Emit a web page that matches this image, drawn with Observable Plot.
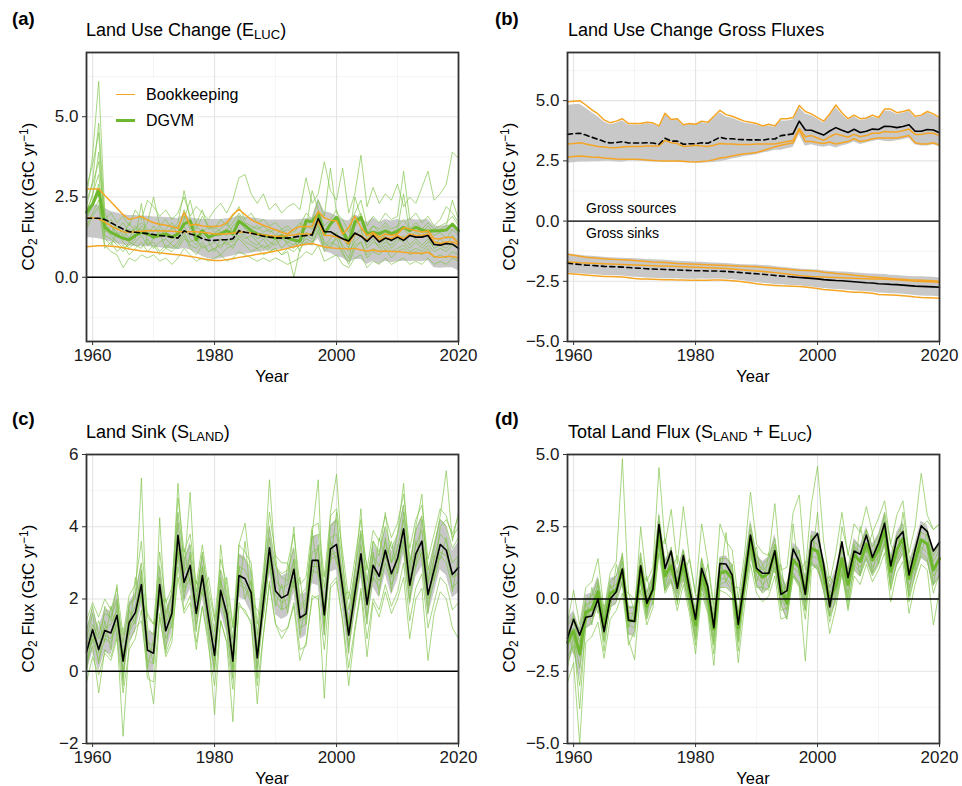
<!DOCTYPE html>
<html><head><meta charset="utf-8">
<script src="https://cdn.jsdelivr.net/npm/d3@7"></script>
<script src="https://cdn.jsdelivr.net/npm/@observablehq/plot@0.6"></script>
<style>
body{margin:0;background:#fff;}
#fig{position:relative;width:962px;height:786px;font-family:"Liberation Sans",Arial,Helvetica,sans-serif;color:#000;overflow:hidden;}
.panel{position:absolute;width:481px;height:393px;}
.panel svg{position:absolute;left:0;top:0;}
.t{position:absolute;white-space:nowrap;line-height:1;}
.lab{font-weight:bold;font-size:18.5px;}
.title{font-size:18px;}
.sub{font-size:13px;position:relative;top:3px;}
.ytitle{font-size:17px;width:300px;text-align:center;transform:rotate(-90deg);left:-122px;}
.ysub{font-size:12px;position:relative;top:3px;}
.ysup{font-size:12px;position:relative;top:-6px;}
.xtitle{font-size:16.5px;width:100px;text-align:center;left:222px;}
.leg{font-size:16px;}
.gl{font-size:14px;}
.key{position:absolute;width:19px;height:0;}
</style></head><body><div id="fig"></div>
<script>
const years = d3.range(1959, 2021);
const xMajor = [1960, 1980, 2000, 2020];
const xMinor = [1970, 1990, 2010];

// ---------- (a) Land use change emissions ----------
const eLucBkMean = [
1.84,1.84,1.84,1.80,1.70,1.60,1.50,1.42,1.40,1.38,
1.36,1.33,1.30,1.28,1.25,1.22,1.45,1.35,1.30,1.20,
1.15,1.15,1.17,1.17,1.20,1.45,1.40,1.37,1.33,1.28,
1.25,1.23,1.22,1.22,1.25,1.28,1.30,1.32,1.83,1.42,
1.42,1.30,1.20,1.13,1.38,1.28,1.12,1.30,1.10,1.22,
1.15,1.25,1.15,1.30,1.25,1.25,1.30,1.02,1.00,1.05,
1.03,0.90];
const eLucBk1 = [
2.75,2.75,2.75,2.55,2.35,2.15,1.95,1.80,1.85,1.90,
1.78,1.70,1.65,1.62,1.58,1.52,2.02,1.62,1.65,1.60,
1.58,1.58,1.60,1.70,1.95,2.12,1.95,1.80,1.70,1.62,
1.55,1.48,1.40,1.35,1.50,1.58,1.58,1.58,2.05,1.85,
1.78,1.75,1.35,1.55,1.90,1.55,1.30,1.40,1.25,1.35,
1.30,1.35,1.55,1.50,1.45,1.40,1.45,1.20,1.20,1.25,
1.25,1.05];
const eLucBk2 = [
1.85,1.85,1.82,1.72,1.60,1.50,1.42,1.40,1.42,1.43,
1.45,1.45,1.45,1.44,1.43,1.42,1.42,1.42,1.42,1.40,
1.38,1.35,1.35,1.35,1.38,1.42,1.40,1.38,1.35,1.32,
1.30,1.28,1.28,1.30,1.32,1.35,1.35,1.35,1.75,1.30,
1.30,1.25,1.20,1.05,1.35,1.30,1.15,1.35,1.15,1.25,
1.20,1.30,1.20,1.35,1.30,1.30,1.35,1.10,1.05,1.10,
1.10,1.00];
const eLucBk3 = [
0.95,0.97,0.98,0.98,0.97,0.95,0.92,0.88,0.85,0.82,
0.80,0.78,0.76,0.74,0.72,0.70,0.68,0.65,0.62,0.58,
0.55,0.52,0.52,0.55,0.58,0.62,0.65,0.68,0.72,0.75,
0.78,0.82,0.86,0.90,0.95,1.00,1.03,1.05,1.00,0.95,
0.92,0.90,0.90,0.88,0.90,0.85,0.82,0.85,0.80,0.82,
0.80,0.80,0.78,0.76,0.75,0.75,0.78,0.65,0.62,0.65,
0.65,0.60];
const eLucDgvmMean = [
2.02,2.28,2.73,1.56,1.40,1.30,1.22,1.16,1.30,1.40,
1.35,1.25,1.30,1.35,1.25,1.35,1.66,1.76,1.16,1.45,
1.25,1.33,1.35,1.45,1.35,1.74,1.61,1.45,1.35,1.30,
1.27,1.22,1.30,1.22,1.16,1.12,1.76,1.74,1.97,1.35,
1.66,1.87,1.45,1.06,1.71,1.87,1.35,1.40,1.35,1.45,
1.35,1.43,1.56,1.45,1.56,1.47,1.43,1.45,1.45,1.47,
1.66,1.45];
const eLucBandLo = [
1.25,1.22,1.20,1.15,1.10,1.05,1.00,0.98,0.96,0.95,
0.95,0.94,0.92,0.90,0.88,0.86,0.90,0.85,0.75,0.65,
0.58,0.55,0.58,0.62,0.66,0.72,0.72,0.75,0.78,0.80,
0.83,0.85,0.87,0.89,0.92,0.95,0.98,1.00,1.20,0.80,
0.75,0.65,0.60,0.45,0.55,0.55,0.40,0.50,0.40,0.50,
0.45,0.48,0.50,0.48,0.50,0.48,0.52,0.30,0.28,0.30,
0.30,0.20];
const eLucBandHi = [
2.15,2.25,2.25,2.15,2.05,2.00,1.95,1.92,1.92,1.90,
1.90,1.88,1.88,1.86,1.85,1.82,1.95,1.85,1.82,1.80,
1.80,1.80,1.80,1.82,1.84,1.92,1.88,1.85,1.83,1.80,
1.78,1.78,1.78,1.78,1.78,1.80,1.82,1.85,2.45,2.05,
2.00,1.90,1.80,1.75,1.95,1.85,1.70,1.85,1.70,1.80,
1.75,1.80,1.75,1.82,1.78,1.78,1.80,1.60,1.58,1.62,
1.62,1.50];
const eLucDgvm = [
[2.5,3.8,6.1,2.0,1.6,1.4,1.2,1.5,1.3,1.6,
1.4,1.2,1.5,1.3,1.2,1.4,2.1,1.6,1.3,1.5,
1.2,1.3,1.4,1.3,1.6,1.8,1.5,1.4,1.2,1.3,
1.1,1.0,1.2,1.1,1.0,1.2,1.6,1.5,1.9,1.3,
1.6,1.8,1.3,0.9,1.6,1.8,1.2,1.4,1.2,1.3,
1.1,1.4,1.5,1.3,1.4,1.3,1.5,1.3,1.4,1.2,
1.5,1.3],
[2.2,3.0,4.8,1.8,2.0,1.7,1.9,1.6,2.1,1.8,
2.4,2.2,1.9,2.1,1.8,2.0,2.5,1.9,2.2,2.0,
1.8,2.1,2.3,2.0,2.4,3.1,3.2,2.6,2.3,2.6,
2.1,2.3,2.0,2.2,2.3,2.1,3.1,2.3,2.6,3.6,
2.7,2.4,3.4,2.0,2.6,3.8,2.2,2.8,2.3,2.6,
2.4,2.9,2.2,2.5,2.3,2.8,3.3,2.4,2.6,2.9,
3.9,3.7],
[2.8,3.5,4.5,1.5,1.3,1.1,0.9,1.0,1.2,2.3,
1.0,1.1,0.8,1.0,0.9,1.1,1.4,1.0,0.9,1.1,
0.8,0.9,1.0,1.1,0.9,1.3,1.1,1.0,0.9,1.0,
0.8,0.9,0.7,0.8,0.0,0.9,1.1,1.0,1.5,0.8,
1.0,1.2,0.7,0.5,1.0,1.1,0.6,0.8,0.7,0.9,
0.6,0.8,0.9,0.7,0.8,0.7,0.9,0.6,0.7,0.6,
0.8,0.7],
[1.6,2.0,2.4,1.0,0.8,0.7,0.3,0.6,0.5,0.7,
0.6,0.7,0.5,0.6,0.4,0.6,0.9,0.7,0.5,0.6,
0.5,0.6,0.7,0.5,0.6,0.8,0.7,0.6,0.5,0.6,
0.5,0.6,0.5,0.4,0.5,0.6,0.8,0.7,1.0,0.5,
0.6,0.7,0.4,0.3,0.6,0.7,0.3,0.5,0.4,0.6,
0.4,0.5,0.6,0.4,0.5,0.4,0.6,0.4,0.5,0.4,
0.6,0.5],
[2.0,2.6,3.2,1.4,1.6,1.3,1.5,1.2,1.6,1.4,
1.7,2.5,1.6,1.8,1.5,1.7,2.7,1.8,1.5,1.9,
1.6,1.5,1.8,1.6,1.9,2.2,1.8,2.0,1.7,1.8,
1.6,1.7,1.5,1.6,1.4,1.6,2.0,1.8,2.4,1.9,
3.4,2.0,1.8,1.4,2.0,2.4,1.6,1.9,1.7,2.0,
1.8,1.9,3.3,1.8,2.0,1.7,1.9,1.6,1.8,2.2,
2.0,1.7],
[1.8,2.3,2.9,1.2,1.0,1.4,1.1,0.9,1.1,1.3,
1.0,1.2,1.4,0.9,1.1,1.3,1.6,1.2,1.0,1.3,
1.1,0.8,1.2,1.0,1.2,1.5,1.3,1.1,1.0,1.2,
0.9,1.1,1.3,1.0,0.9,1.1,1.3,1.2,1.7,1.0,
1.2,1.4,0.9,0.6,1.3,1.5,0.9,1.1,1.0,1.2,
0.9,1.1,1.3,1.0,1.2,1.0,1.2,0.9,1.0,0.9,
1.1,1.0],
[2.4,2.9,3.6,1.7,1.4,1.6,1.3,1.7,1.4,1.5,
1.3,1.6,1.3,1.5,1.7,1.3,1.8,2.4,1.6,1.4,
1.6,1.4,1.5,1.7,1.4,1.9,1.6,1.5,1.6,1.4,
1.5,1.3,1.5,1.3,1.5,1.7,1.5,2.7,2.1,1.6,
1.8,2.1,1.5,1.2,1.8,2.0,1.4,1.6,1.5,1.7,
1.5,1.6,1.8,1.5,1.7,1.5,1.7,1.5,1.6,1.7,
1.9,1.6],
[1.5,1.9,2.2,0.9,1.1,0.8,1.0,0.7,0.9,1.1,
0.8,1.0,0.7,0.9,0.8,1.0,1.3,0.9,0.7,1.0,
0.8,0.9,0.7,0.9,1.0,1.2,1.0,0.8,0.9,0.7,
0.8,0.9,0.7,0.9,0.8,1.0,1.2,1.1,1.4,0.9,
1.1,1.0,0.8,0.4,0.9,1.1,0.7,0.9,0.8,1.0,
0.8,0.9,1.0,0.8,0.9,0.8,1.0,0.8,0.9,0.8,
1.0,0.9],
[2.1,2.5,3.9,1.6,1.8,1.5,1.7,1.4,1.5,1.7,
1.5,1.4,1.6,1.4,1.5,1.6,1.9,1.5,1.7,2.1,
1.5,1.6,1.4,1.5,1.7,2.0,1.7,1.6,1.5,1.6,
1.4,1.5,1.4,1.5,1.3,1.4,1.8,1.6,2.0,1.4,
1.7,1.9,1.4,1.1,2.5,1.9,1.3,1.6,1.4,1.6,
1.4,1.5,2.6,1.4,1.6,1.4,1.6,1.4,1.5,1.6,
2.4,1.8],
[1.9,2.2,2.6,1.3,1.2,1.0,0.8,1.1,1.0,0.9,
1.2,0.9,1.1,1.2,1.0,0.9,1.2,1.1,1.2,0.9,
1.0,1.1,0.9,1.2,1.1,1.4,1.2,1.3,1.1,0.9,
1.0,1.2,0.9,1.1,1.2,0.8,1.4,1.3,1.6,1.1,
0.9,1.3,1.0,0.8,1.1,1.3,1.0,1.2,0.9,1.1,
1.0,1.2,1.1,0.9,1.1,0.9,1.1,1.0,1.2,1.0,
1.3,1.1]];

// ---------- (b) gross fluxes (bookkeeping) ----------
const srcMean = [
3.60,3.63,3.65,3.57,3.48,3.40,3.30,3.24,3.26,3.30,
3.24,3.24,3.24,3.25,3.24,3.19,3.44,3.32,3.32,3.19,
3.21,3.21,3.25,3.23,3.35,3.48,3.42,3.42,3.39,3.38,
3.37,3.37,3.36,3.41,3.41,3.55,3.58,3.63,4.15,3.78,
3.77,3.67,3.57,3.74,3.88,3.77,3.68,3.81,3.68,3.73,
3.82,3.80,3.94,3.93,3.88,3.93,4.00,3.73,3.73,3.80,
3.78,3.67];
const src1 = [
4.95,4.98,5.00,4.82,4.62,4.45,4.20,4.08,4.15,4.25,
4.05,4.05,4.05,4.10,4.08,3.95,4.48,4.22,4.25,4.00,
4.05,4.02,4.15,4.10,4.35,4.60,4.42,4.35,4.25,4.15,
4.10,4.05,3.95,4.02,3.95,4.25,4.25,4.30,4.80,4.55,
4.45,4.30,4.15,4.45,4.82,4.50,4.25,4.40,4.25,4.28,
4.40,4.30,4.65,4.65,4.50,4.55,4.62,4.35,4.40,4.55,
4.45,4.30];
const src2 = [
3.20,3.22,3.25,3.20,3.15,3.10,3.08,3.05,3.05,3.08,
3.10,3.10,3.10,3.12,3.12,3.12,3.35,3.25,3.22,3.10,
3.12,3.15,3.12,3.10,3.15,3.22,3.20,3.20,3.18,3.18,
3.18,3.20,3.20,3.20,3.20,3.25,3.30,3.35,3.85,3.50,
3.55,3.45,3.35,3.50,3.62,3.55,3.48,3.60,3.50,3.55,
3.65,3.65,3.72,3.70,3.70,3.75,3.82,3.60,3.60,3.65,
3.65,3.55];
const src3 = [
2.65,2.68,2.70,2.68,2.66,2.65,2.62,2.60,2.58,2.57,
2.57,2.57,2.56,2.54,2.52,2.50,2.50,2.50,2.49,2.48,
2.46,2.45,2.47,2.50,2.55,2.62,2.65,2.70,2.75,2.80,
2.82,2.85,2.92,3.00,3.08,3.15,3.20,3.25,3.80,3.30,
3.30,3.25,3.22,3.28,3.20,3.25,3.30,3.42,3.30,3.35,
3.42,3.45,3.45,3.45,3.45,3.50,3.55,3.25,3.20,3.20,
3.25,3.15];
const snkMean = [
-1.75,-1.78,-1.80,-1.83,-1.84,-1.86,-1.88,-1.89,-1.90,-1.91,
-1.93,-1.95,-1.96,-1.98,-1.99,-2.00,-2.01,-2.02,-2.03,-2.04,
-2.05,-2.06,-2.06,-2.07,-2.07,-2.08,-2.09,-2.11,-2.13,-2.15,
-2.17,-2.19,-2.21,-2.23,-2.26,-2.28,-2.30,-2.32,-2.34,-2.36,
-2.38,-2.40,-2.43,-2.45,-2.47,-2.48,-2.50,-2.52,-2.54,-2.56,
-2.57,-2.60,-2.61,-2.63,-2.64,-2.66,-2.68,-2.70,-2.71,-2.72,
-2.73,-2.75];
const snk1 = [
-1.38,-1.42,-1.46,-1.50,-1.52,-1.54,-1.56,-1.58,-1.60,-1.61,
-1.62,-1.64,-1.66,-1.68,-1.70,-1.71,-1.72,-1.74,-1.76,-1.77,
-1.78,-1.79,-1.80,-1.81,-1.82,-1.83,-1.84,-1.85,-1.87,-1.88,
-1.89,-1.90,-1.92,-1.94,-1.96,-1.98,-2.00,-2.02,-2.04,-2.05,
-2.06,-2.08,-2.12,-2.15,-2.18,-2.20,-2.22,-2.25,-2.27,-2.30,
-2.32,-2.34,-2.36,-2.38,-2.40,-2.42,-2.44,-2.45,-2.46,-2.47,
-2.48,-2.50];
const snk2 = [
-1.70,-1.71,-1.73,-1.74,-1.75,-1.76,-1.77,-1.78,-1.79,-1.80,
-1.81,-1.82,-1.83,-1.84,-1.85,-1.86,-1.87,-1.88,-1.89,-1.90,
-1.91,-1.92,-1.93,-1.94,-1.95,-1.96,-1.97,-1.99,-2.01,-2.03,
-2.05,-2.07,-2.09,-2.11,-2.14,-2.17,-2.20,-2.23,-2.26,-2.28,
-2.30,-2.31,-2.32,-2.33,-2.34,-2.35,-2.36,-2.37,-2.38,-2.39,
-2.40,-2.41,-2.42,-2.43,-2.44,-2.46,-2.48,-2.50,-2.51,-2.52,
-2.53,-2.55];
const snk3 = [
-2.18,-2.20,-2.22,-2.24,-2.26,-2.28,-2.30,-2.30,-2.31,-2.32,
-2.35,-2.38,-2.40,-2.41,-2.42,-2.43,-2.44,-2.44,-2.45,-2.45,
-2.46,-2.46,-2.46,-2.46,-2.45,-2.45,-2.46,-2.48,-2.50,-2.53,
-2.56,-2.60,-2.63,-2.65,-2.67,-2.69,-2.70,-2.71,-2.72,-2.74,
-2.77,-2.80,-2.84,-2.86,-2.88,-2.90,-2.93,-2.95,-2.96,-2.98,
-3.00,-3.05,-3.06,-3.07,-3.08,-3.10,-3.12,-3.15,-3.17,-3.18,
-3.19,-3.20];

// ---------- (c) land sink ----------
const sLandMean = [
0.53,1.15,0.60,1.13,1.06,1.55,0.28,1.35,1.62,2.40,
0.58,0.50,2.40,1.12,1.60,3.76,2.46,2.93,1.60,2.65,
1.50,0.44,2.24,1.60,0.28,2.65,2.56,2.17,0.37,1.90,
3.42,2.22,2.03,2.12,2.82,1.48,1.59,3.07,3.07,1.56,
3.39,3.51,2.30,1.00,2.15,3.25,1.85,2.93,2.63,3.35,
2.70,3.12,3.94,2.38,3.25,3.60,2.12,2.81,3.51,3.35,
2.68,2.87];
const sLandSd = [
0.60,0.60,0.60,0.60,0.60,0.60,0.60,0.55,0.55,0.60,
0.55,0.55,0.60,0.55,0.55,0.70,0.60,0.65,0.55,0.60,
0.55,0.60,0.60,0.55,0.60,0.60,0.60,0.55,0.60,0.60,
0.70,0.65,0.60,0.60,0.65,0.60,0.60,0.65,0.70,0.65,
0.65,0.70,0.60,0.60,0.60,0.65,0.60,0.60,0.60,0.65,
0.60,0.60,0.70,0.60,0.65,0.70,0.60,0.65,0.70,0.70,
0.65,0.70];
const sLandDgvm = [
[0.9,1.6,0.5,1.8,1.4,2.4,-0.2,1.9,2.0,5.35,
0.9,0.2,4.25,1.4,2.2,5.2,2.8,4.95,1.9,3.3,
2.0,0.3,3.5,2.0,0.1,3.5,4.1,2.6,0.5,2.4,
5.3,2.9,2.6,2.5,4.0,1.8,2.0,3.8,5.3,1.2,
4.4,5.45,3.0,1.2,2.7,4.5,2.0,3.6,3.2,4.4,
3.0,3.8,5.2,2.8,4.0,4.9,2.5,3.4,4.3,5.55,
3.6,4.4],
[0.2,0.7,-0.6,0.6,0.4,1.0,-1.8,0.8,1.2,1.4,
0.1,-0.9,1.5,0.5,1.0,2.6,1.6,1.9,0.6,1.8,
0.9,-1.2,1.4,0.8,-1.4,1.9,1.6,1.4,-0.9,1.0,
2.4,1.3,0.9,1.2,1.8,0.3,0.8,2.0,2.1,-0.75,
2.3,2.5,1.4,-0.4,1.1,2.2,0.4,1.9,1.5,2.2,
1.6,2.0,2.6,0.9,2.0,2.3,0.3,1.6,2.2,2.0,
1.2,0.9],
[0.7,1.3,0.9,1.2,1.3,1.7,0.5,1.4,1.8,2.6,
0.8,0.7,2.6,1.3,1.8,4.1,2.7,3.2,1.9,2.9,
1.8,0.8,2.5,1.9,0.6,2.9,2.8,2.4,0.6,2.1,
3.7,2.5,2.3,2.4,3.1,1.7,1.9,3.3,3.4,1.8,
3.7,3.8,2.6,1.3,2.4,3.5,2.1,3.2,2.9,3.6,
3.0,3.4,4.2,2.6,3.5,3.9,2.4,3.1,3.8,3.6,
3.0,3.2],
[0.3,0.9,0.3,0.9,0.8,1.3,0.0,1.1,1.4,2.1,
0.3,0.2,2.1,0.9,1.3,3.4,2.2,2.6,1.3,2.3,
1.2,0.1,1.9,1.3,0.0,2.4,2.3,1.9,0.1,1.6,
3.1,1.9,1.7,1.8,2.5,1.2,1.3,2.8,2.7,1.3,
3.1,3.2,2.0,0.7,1.8,2.9,1.5,2.6,2.3,3.0,
2.4,2.8,3.6,2.0,2.9,3.3,1.8,2.5,3.2,3.0,
2.3,2.5],
[1.1,1.8,1.0,1.6,1.5,2.0,0.8,1.8,2.1,3.0,
1.2,1.0,2.9,1.6,2.1,4.4,3.1,3.5,2.2,3.2,
2.1,1.1,2.8,2.2,0.9,3.2,3.1,2.8,1.0,2.5,
4.0,2.9,2.7,2.8,3.4,2.1,2.3,3.7,3.8,2.3,
4.0,4.2,3.0,1.7,2.8,3.9,2.5,3.6,3.3,4.0,
3.4,3.8,4.6,3.0,3.9,4.3,2.8,3.5,4.2,4.0,
3.4,3.7],
[-0.3,0.4,-0.1,0.5,0.3,0.9,-0.6,0.6,0.9,1.7,
-0.2,-0.3,1.6,0.4,0.8,2.9,1.7,2.1,0.8,1.8,
0.7,-0.4,1.4,0.8,-0.5,1.8,1.7,1.3,-0.4,1.0,
2.5,1.3,1.1,1.2,1.9,0.6,0.7,2.1,2.0,0.6,
2.4,2.6,1.4,0.1,1.2,2.3,0.9,2.0,1.7,2.4,
1.8,2.2,3.0,1.4,2.3,2.7,1.2,1.9,2.6,2.4,
1.7,1.9],
[0.6,0.8,1.4,0.8,1.8,1.0,1.2,1.0,2.6,1.9,
1.6,1.3,1.9,2.0,1.2,3.2,3.4,2.4,2.5,2.1,
2.6,1.5,1.8,2.6,1.3,2.2,3.6,1.9,1.7,1.5,
3.0,3.2,1.7,3.0,2.3,2.6,1.3,3.9,2.6,2.7,
3.0,4.4,2.1,2.2,1.8,3.8,2.9,2.5,3.7,3.1,
3.6,2.7,4.4,3.2,2.9,4.2,2.9,2.5,4.0,4.2,
3.8,4.3],
[0.5,1.0,0.7,1.0,0.9,1.4,0.4,1.2,1.5,2.2,
0.6,0.6,2.2,1.1,1.5,3.6,2.3,2.8,1.5,2.5,
1.4,0.5,2.1,1.5,0.4,2.5,2.4,2.0,0.4,1.8,
3.2,2.1,1.9,2.0,2.6,1.4,1.5,2.9,2.9,1.5,
3.2,3.3,2.2,1.0,2.0,3.0,1.8,2.8,2.5,3.2,
2.6,3.0,3.7,2.3,3.1,3.4,2.0,2.7,3.3,3.2,
2.6,2.7],
[1.4,1.9,1.5,2.0,1.7,2.3,1.0,2.1,2.4,3.6,
1.5,1.3,3.3,1.9,2.3,4.8,3.3,3.8,2.4,3.5,
2.3,1.4,3.1,2.4,1.2,3.5,3.3,3.0,1.3,2.8,
4.4,3.2,3.0,3.0,3.8,2.4,2.6,4.0,4.1,2.6,
4.3,4.5,3.3,2.0,3.1,4.2,2.8,3.9,3.6,4.3,
3.7,4.1,4.9,3.4,4.2,4.6,3.1,3.8,4.5,4.3,
3.7,4.0],
[0.0,1.2,0.2,1.4,0.6,1.9,-0.4,1.7,1.3,2.8,
0.1,0.9,2.0,0.6,1.9,3.3,2.0,3.3,1.1,2.9,
1.1,0.0,2.6,1.1,-0.2,2.9,2.0,2.5,-0.2,2.2,
3.0,1.8,2.4,1.6,3.1,1.0,1.9,2.6,3.5,1.0,
3.6,3.0,2.6,0.5,2.5,2.8,1.3,3.3,2.1,3.7,
2.2,3.5,3.4,1.9,3.6,3.1,1.6,3.2,3.1,3.7,
2.2,3.2]];

// ---------- (d) total land flux ----------
const netBk = [
-1.36,-0.70,-1.25,-0.63,-0.59,0.00,-1.13,0.00,0.25,1.04,
-0.73,-0.78,1.15,-0.15,0.33,2.58,1.06,1.66,0.37,1.50,
0.35,-0.70,1.06,0.43,-0.99,1.23,1.21,0.83,-0.88,0.60,
2.21,1.06,0.89,0.89,1.67,0.16,0.29,1.73,1.29,0.16,
2.00,2.27,1.20,-0.27,0.89,1.98,0.74,1.66,1.55,2.21,
1.44,1.93,2.62,1.14,2.08,2.33,0.83,1.70,2.53,2.33,
1.66,1.96];
const netDgvmMean = [
-1.50,-1.10,-1.90,-0.45,-0.35,0.25,-0.95,0.20,0.30,1.00,
-0.75,-0.75,1.10,-0.25,0.35,2.40,0.80,1.15,0.45,1.20,
0.25,-0.90,0.90,0.15,-1.05,0.90,0.95,0.70,-1.00,0.60,
2.15,1.00,0.75,0.90,1.65,0.35,-0.15,1.35,1.10,0.20,
1.75,1.65,0.85,-0.05,0.45,1.40,0.50,1.55,1.30,1.90,
1.35,1.70,2.40,0.95,1.70,2.10,0.70,1.35,2.05,1.90,
1.00,1.40];
const netSd = [
0.80,0.70,0.90,0.60,0.55,0.55,0.50,0.50,0.50,0.55,
0.50,0.50,0.55,0.50,0.50,0.60,0.55,0.60,0.50,0.55,
0.50,0.55,0.55,0.50,0.55,0.55,0.55,0.50,0.55,0.55,
0.60,0.55,0.55,0.55,0.60,0.55,0.60,0.60,0.65,0.60,
0.60,0.65,0.60,0.55,0.60,0.60,0.55,0.55,0.55,0.60,
0.55,0.55,0.60,0.55,0.60,0.60,0.55,0.60,0.65,0.65,
0.60,0.65];
const netDgvm = [
[-0.8,0.3,-0.9,0.4,0.6,1.4,-0.4,0.9,1.3,4.85,
0.2,-0.4,2.5,0.6,1.1,4.55,1.9,3.1,1.2,3.2,
1.4,0.2,2.6,1.3,-0.2,2.6,2.0,1.7,0.0,1.5,
3.7,1.9,1.6,1.5,3.3,1.0,1.1,3.0,3.6,1.0,
3.3,4.6,2.0,0.6,1.6,3.0,1.5,2.6,2.3,3.2,
2.3,2.8,3.4,1.9,2.9,3.4,1.6,2.5,4.35,2.9,
2.4,2.6],
[-2.9,-2.2,-5.0,-1.5,-1.3,-0.8,-2.05,-0.7,-0.4,0.2,
-1.4,-2.1,0.3,-0.9,-0.3,1.6,0.2,0.6,-0.4,0.5,
-0.5,-1.9,0.2,-0.5,-2.3,0.3,0.2,0.0,-2.2,-0.3,
1.2,0.2,-0.1,0.1,0.8,-0.7,-0.6,0.8,0.4,-2.15,
1.0,1.2,0.3,-1.2,-0.3,0.9,-0.4,0.8,0.5,1.2,
0.6,1.0,1.6,-0.1,0.9,1.3,-0.5,0.5,1.2,1.0,
-0.9,0.3],
[-1.6,-1.3,-2.4,-0.7,-0.5,0.1,-1.2,0.0,0.2,0.9,
-0.9,-1.0,0.9,-0.4,0.2,2.2,0.6,1.0,0.2,1.0,
0.0,-1.1,0.7,-0.1,-1.3,0.7,0.7,0.5,-1.2,0.4,
1.9,0.8,0.5,0.7,1.4,0.1,-0.4,1.1,0.9,-0.1,
1.5,1.4,0.6,-0.3,0.2,1.2,0.2,1.3,1.1,1.7,
1.1,1.5,2.2,0.7,1.5,1.9,0.4,1.1,1.8,1.6,
0.8,1.1],
[-1.2,-0.8,-1.5,-0.2,-0.1,0.5,-0.7,0.4,0.5,1.3,
-0.5,-0.5,1.4,0.0,0.6,2.7,1.1,1.4,0.7,1.5,
0.5,-0.6,1.2,0.4,-0.8,1.2,1.2,1.0,-0.7,0.9,
2.4,1.3,1.0,1.2,1.9,0.6,0.1,1.6,1.4,0.5,
2.0,1.9,1.1,0.2,0.7,1.7,0.8,1.8,1.6,2.2,
1.6,2.0,2.7,1.2,2.0,2.4,1.0,1.6,2.3,2.2,
1.3,1.7],
[-2.0,-1.6,-3.0,-1.0,-0.8,-0.2,-1.5,-0.3,-0.1,0.6,
-1.2,-1.3,0.6,-0.7,-0.1,1.9,0.3,0.7,-0.1,0.7,
-0.3,-1.4,0.4,-0.4,-1.6,0.4,0.4,0.2,-1.5,0.1,
1.6,0.5,0.2,0.4,1.1,-0.2,-0.7,0.8,0.6,-0.4,
1.2,1.1,0.3,-0.6,-0.1,0.9,-0.1,1.0,0.8,1.4,
0.8,1.2,1.9,0.4,1.2,1.6,0.1,0.8,1.5,1.3,
0.5,0.8],
[-1.0,-1.9,-1.2,-0.9,0.4,-0.5,-0.2,-0.4,1.2,0.4,
0.2,0.0,0.3,0.8,-0.2,1.6,2.1,0.9,1.5,0.8,
1.4,0.1,0.3,1.2,-0.4,0.6,2.3,0.4,0.4,0.2,
1.4,1.8,0.3,1.6,0.9,1.2,-0.2,2.6,0.8,1.3,
1.2,3.0,0.5,0.8,0.4,2.5,1.6,1.0,2.5,1.6,
2.3,1.2,3.0,1.9,1.4,3.0,1.5,1.0,2.5,2.7,
2.4,2.6],
[-1.4,-1.0,-1.8,-0.5,-0.4,0.3,-1.0,0.2,0.4,1.1,
-0.7,-0.8,1.2,-0.2,0.4,2.4,0.9,1.3,0.5,1.3,
0.3,-0.8,1.0,0.2,-1.0,1.0,1.0,0.7,-1.0,0.6,
2.1,1.0,0.8,0.9,1.6,0.3,-0.1,1.4,1.1,0.2,
1.7,1.7,0.8,-0.1,0.4,1.4,0.5,1.5,1.3,1.9,
1.3,1.7,2.4,0.9,1.7,2.1,0.7,1.4,2.0,1.9,
1.0,1.4],
[-1.8,-0.5,-2.0,-0.1,-0.9,0.6,-1.4,0.5,0.0,1.6,
-1.0,-0.3,0.7,-0.6,0.8,2.0,0.4,1.8,-0.2,1.7,
-0.1,-1.3,1.4,-0.2,-1.5,1.4,0.6,1.2,-1.4,1.0,
1.7,0.6,1.2,0.4,1.9,-0.2,0.6,1.2,1.7,-0.4,
2.2,1.5,1.3,-0.6,1.0,1.1,0.0,1.9,0.8,2.4,
0.9,2.1,2.0,0.5,2.2,1.7,0.1,1.8,1.6,2.3,
0.5,1.6],
[-0.9,-0.6,-1.1,0.0,0.1,0.7,-0.5,0.6,0.8,1.5,
-0.3,-0.3,1.6,0.2,0.8,2.9,1.3,1.7,0.9,1.7,
0.7,-0.4,1.4,0.6,-0.6,1.4,1.4,1.2,-0.5,1.1,
2.6,1.5,1.2,1.4,2.1,0.8,0.3,1.8,1.6,0.7,
2.2,2.1,1.3,0.4,0.9,1.9,1.0,2.0,1.8,2.4,
1.8,2.2,2.9,1.4,2.2,2.6,1.2,1.8,2.5,2.4,
1.5,1.9],
[-2.4,-1.3,-3.8,-0.8,-0.2,-0.1,-1.8,-0.1,0.4,0.8,
-1.6,-1.1,0.8,-0.5,0.5,2.1,0.3,0.9,0.3,0.8,
-0.2,-1.6,0.6,-0.2,-1.9,0.5,0.6,0.3,-1.8,0.2,
1.8,0.4,0.4,0.3,1.3,-0.4,-0.3,0.9,0.5,-0.7,
1.3,1.0,0.5,-0.8,0.1,1.0,-0.3,1.2,0.9,1.5,
0.9,1.3,2.0,0.3,1.3,1.8,-0.1,0.9,1.6,1.4,
0.2,0.9]];

// ---------- styling ----------
const ORANGE = "#f5a524", GREEN = "#6db82e", THIN = "#7fc348", GREY = "#c8c8c8";
const FONT = '"Liberation Sans", Arial, Helvetica, sans-serif';

const rows = arr => years.map((x, i) => ({x, y: arr[i]}));
const line = (arr, o) => Plot.line(rows(arr), {x: "x", y: "y", ...o});
const bandLoHi = (lo, hi) => Plot.areaY(years.map((x, i) => ({x, lo: lo[i], hi: hi[i]})), {x: "x", y1: "lo", y2: "hi", fill: GREY});
const bandSd = (c, sd) => bandLoHi(c.map((v, i) => v - sd[i]), c.map((v, i) => v + sd[i]));
const thin = arr => line(arr, {stroke: THIN, strokeWidth: 0.8, strokeOpacity: 0.85, clip: true});
const orange = arr => line(arr, {stroke: ORANGE, strokeWidth: 1.5});
const blackSplit = arr => [
  Plot.line(rows(arr).filter(d => d.x <= 1996), {x: "x", y: "y", stroke: "#000", strokeWidth: 1.6, strokeDasharray: "5,3.5"}),
  Plot.line(rows(arr).filter(d => d.x >= 1996), {x: "x", y: "y", stroke: "#000", strokeWidth: 1.6})
];
const zero = Plot.ruleY([0], {stroke: "#000", strokeWidth: 1.4});

function makePlot(cfg) {
  return Plot.plot({
    width: 481, height: 393,
    marginLeft: 86, marginRight: 23, marginTop: cfg.mTop, marginBottom: cfg.mBottom,
    style: {fontFamily: FONT, fontSize: "17px", color: "#1a1a1a", background: "transparent", overflow: "visible"},
    x: {domain: [1959, 2020]},
    y: {domain: cfg.yDomain},
    marks: [
      Plot.gridX(xMinor, {stroke: "#efefef", strokeOpacity: 1, strokeWidth: 0.6}),
      Plot.gridY(cfg.yMinor, {stroke: "#efefef", strokeOpacity: 1, strokeWidth: 0.6}),
      Plot.gridX(xMajor, {stroke: "#e4e4e4", strokeOpacity: 1, strokeWidth: 1.1}),
      Plot.gridY(cfg.yTicks, {stroke: "#e4e4e4", strokeOpacity: 1, strokeWidth: 1.1}),
      ...cfg.marks,
      Plot.axisX(xMajor, {tickFormat: "d", tickSize: 4, tickPadding: 3, fontSize: 17, label: null, stroke: "#333"}),
      Plot.axisY(cfg.yTicks, {tickFormat: cfg.yFmt, tickSize: 4, tickPadding: 4, fontSize: 17, label: null, stroke: "#333"}),
      Plot.frame({stroke: "#333", strokeWidth: 1.8})
    ]
  });
}

const fig = document.getElementById("fig");
function addPanel(left, top, svg, html) {
  const p = document.createElement("div");
  p.className = "panel";
  p.style.left = left + "px";
  p.style.top = top + "px";
  p.appendChild(svg);
  p.insertAdjacentHTML("beforeend", html);
  fig.appendChild(p);
}
const ytitle = cy => `<div class="t ytitle" style="top:${cy - 8.5}px">CO<span class="ysub">2</span> Flux (GtC yr<span class="ysup">−1</span>)</div>`;

// (a)
addPanel(0, 0, makePlot({
  mTop: 52, mBottom: 52, yDomain: [-2, 7], yTicks: [0, 2.5, 5], yMinor: [-1.25, 1.25, 3.75, 6.25], yFmt: ".1f",
  marks: [
    bandLoHi(eLucBandLo, eLucBandHi),
    ...eLucDgvm.map(thin),
    line(eLucDgvmMean, {stroke: GREEN, strokeWidth: 3}),
    orange(eLucBk1), orange(eLucBk2), orange(eLucBk3),
    zero,
    ...blackSplit(eLucBkMean)
  ]
}),
`<div class="t lab" style="left:12px;top:9.5px">(a)</div>
<div class="t title" style="left:86px;top:21px">Land Use Change (E<span class="sub">LUC</span>)</div>
${ytitle(196.5)}
<div class="t xtitle" style="top:367.5px">Year</div>
<div style="position:absolute;left:113px;top:78px;width:85px;height:49px;background:#fff"></div>
<div class="key" style="left:116px;top:94px;border-top:1.5px solid ${ORANGE}"></div>
<div class="key" style="left:116px;top:119px;border-top:3px solid ${GREEN}"></div>
<div class="t leg" style="left:146px;top:86.5px">Bookkeeping</div>
<div class="t leg" style="left:146px;top:112.5px">DGVM</div>`);

// (b)
const srcSd = years.map((_, i) => d3.deviation([src1[i], src2[i], src3[i]]));
const snkSd = years.map((_, i) => d3.deviation([snk1[i], snk2[i], snk3[i]]));
addPanel(481, 0, makePlot({
  mTop: 52, mBottom: 52, yDomain: [-5, 7], yTicks: [-5, -2.5, 0, 2.5, 5], yMinor: [-3.75, -1.25, 1.25, 3.75, 6.25], yFmt: ".1f",
  marks: [
    bandSd(srcMean, srcSd),
    bandSd(snkMean, snkSd),
    orange(src1), orange(src2), orange(src3),
    orange(snk1), orange(snk2), orange(snk3),
    zero,
    ...blackSplit(srcMean),
    ...blackSplit(snkMean)
  ]
}),
`<div class="t lab" style="left:14px;top:9.5px">(b)</div>
<div class="t title" style="left:87px;top:21px">Land Use Change Gross Fluxes</div>
${ytitle(196.5)}
<div class="t xtitle" style="top:367.5px">Year</div>
<div class="t gl" style="left:105px;top:201px">Gross sources</div>
<div class="t gl" style="left:105px;top:225.5px">Gross sinks</div>`);

// (c)
addPanel(0, 393, makePlot({
  mTop: 61, mBottom: 43, yDomain: [-2, 6], yTicks: [-2, 0, 2, 4, 6], yMinor: [-1, 1, 3, 5], yFmt: "d",
  marks: [
    bandSd(sLandMean, sLandSd),
    ...sLandDgvm.map(thin),
    zero,
    line(sLandMean, {stroke: "#000", strokeWidth: 1.6})
  ]
}),
`<div class="t lab" style="left:12px;top:17px">(c)</div>
<div class="t title" style="left:86px;top:30px">Land Sink (S<span class="sub">LAND</span>)</div>
${ytitle(205.5)}
<div class="t xtitle" style="top:376.5px">Year</div>`);

// (d)
addPanel(481, 393, makePlot({
  mTop: 61, mBottom: 43, yDomain: [-5, 5], yTicks: [-5, -2.5, 0, 2.5, 5], yMinor: [-3.75, -1.25, 1.25, 3.75], yFmt: ".1f",
  marks: [
    bandSd(netDgvmMean, netSd),
    ...netDgvm.map(thin),
    line(netDgvmMean, {stroke: GREEN, strokeWidth: 3}),
    zero,
    line(netBk, {stroke: "#000", strokeWidth: 1.6})
  ]
}),
`<div class="t lab" style="left:14px;top:17px">(d)</div>
<div class="t title" style="left:87px;top:30px">Total Land Flux (S<span class="sub">LAND</span> + E<span class="sub">LUC</span>)</div>
${ytitle(205.5)}
<div class="t xtitle" style="top:376.5px">Year</div>`);
</script>
</body></html>
